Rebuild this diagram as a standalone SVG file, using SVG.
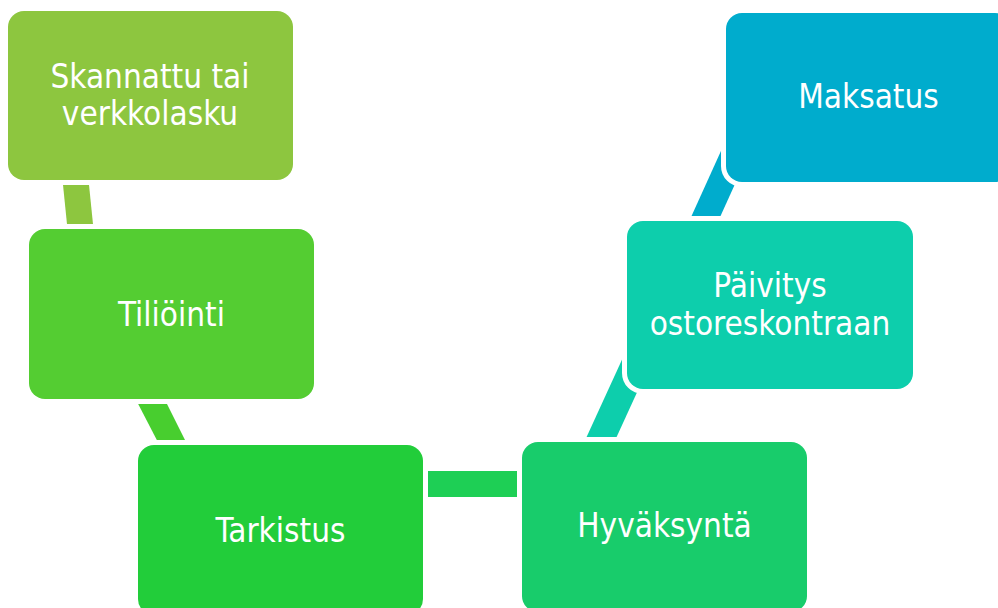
<svg xmlns="http://www.w3.org/2000/svg" width="998" height="608" viewBox="0 0 998 608">
<style>
.box{stroke:#fff;stroke-width:10;paint-order:stroke;}
.t{font-family:"DejaVu Sans Condensed","DejaVu Sans",sans-serif;font-stretch:condensed;font-size:33px;fill:#fff;text-anchor:middle;}
</style>
<rect width="998" height="608" fill="#fff"/>
<g id="connectors">
<polygon points="62,175 88,175 94,234 68,234" fill="#8DC63F"/>
<polygon points="133,394 162,394 190,450 162,450" fill="#48CE2F"/>
<rect x="419" y="471" width="108" height="26" fill="#1ECF55"/>
<polygon points="582,447 612,447 661,340 631,340" fill="#0DCEAC"/>
<polygon points="687,226 716,226 764,120 735,120" fill="#00ACCD"/>
</g>
<g id="n1"><rect class="box" x="8" y="11" width="285" height="169" rx="16" fill="#8DC63F"/>
<text class="t" x="150" y="88">Skannattu tai</text><text class="t" x="150" y="125">verkkolasku</text></g>
<g id="n2"><rect class="box" x="29" y="229" width="285" height="170" rx="16" fill="#54CD32"/>
<text class="t" x="171.5" y="326">Tiliöinti</text></g>
<g id="n3"><rect class="box" x="138" y="445" width="285" height="170" rx="16" fill="#22CD3A"/>
<text class="t" x="280.5" y="542">Tarkistus</text></g>
<g id="n4"><rect class="box" x="522" y="442" width="285" height="170" rx="16" fill="#18CC6B"/>
<text class="t" x="664.5" y="537">Hyväksyntä</text></g>
<g id="n5"><rect class="box" x="627" y="221" width="286" height="168" rx="16" fill="#0DCEAC"/>
<text class="t" x="770" y="297">Päivitys</text><text class="t" x="770" y="335">ostoreskontraan</text></g>
<g id="n6"><rect class="box" x="726" y="13" width="285" height="169" rx="16" fill="#00ACCD"/>
<text class="t" x="868.5" y="108">Maksatus</text></g>
</svg>
